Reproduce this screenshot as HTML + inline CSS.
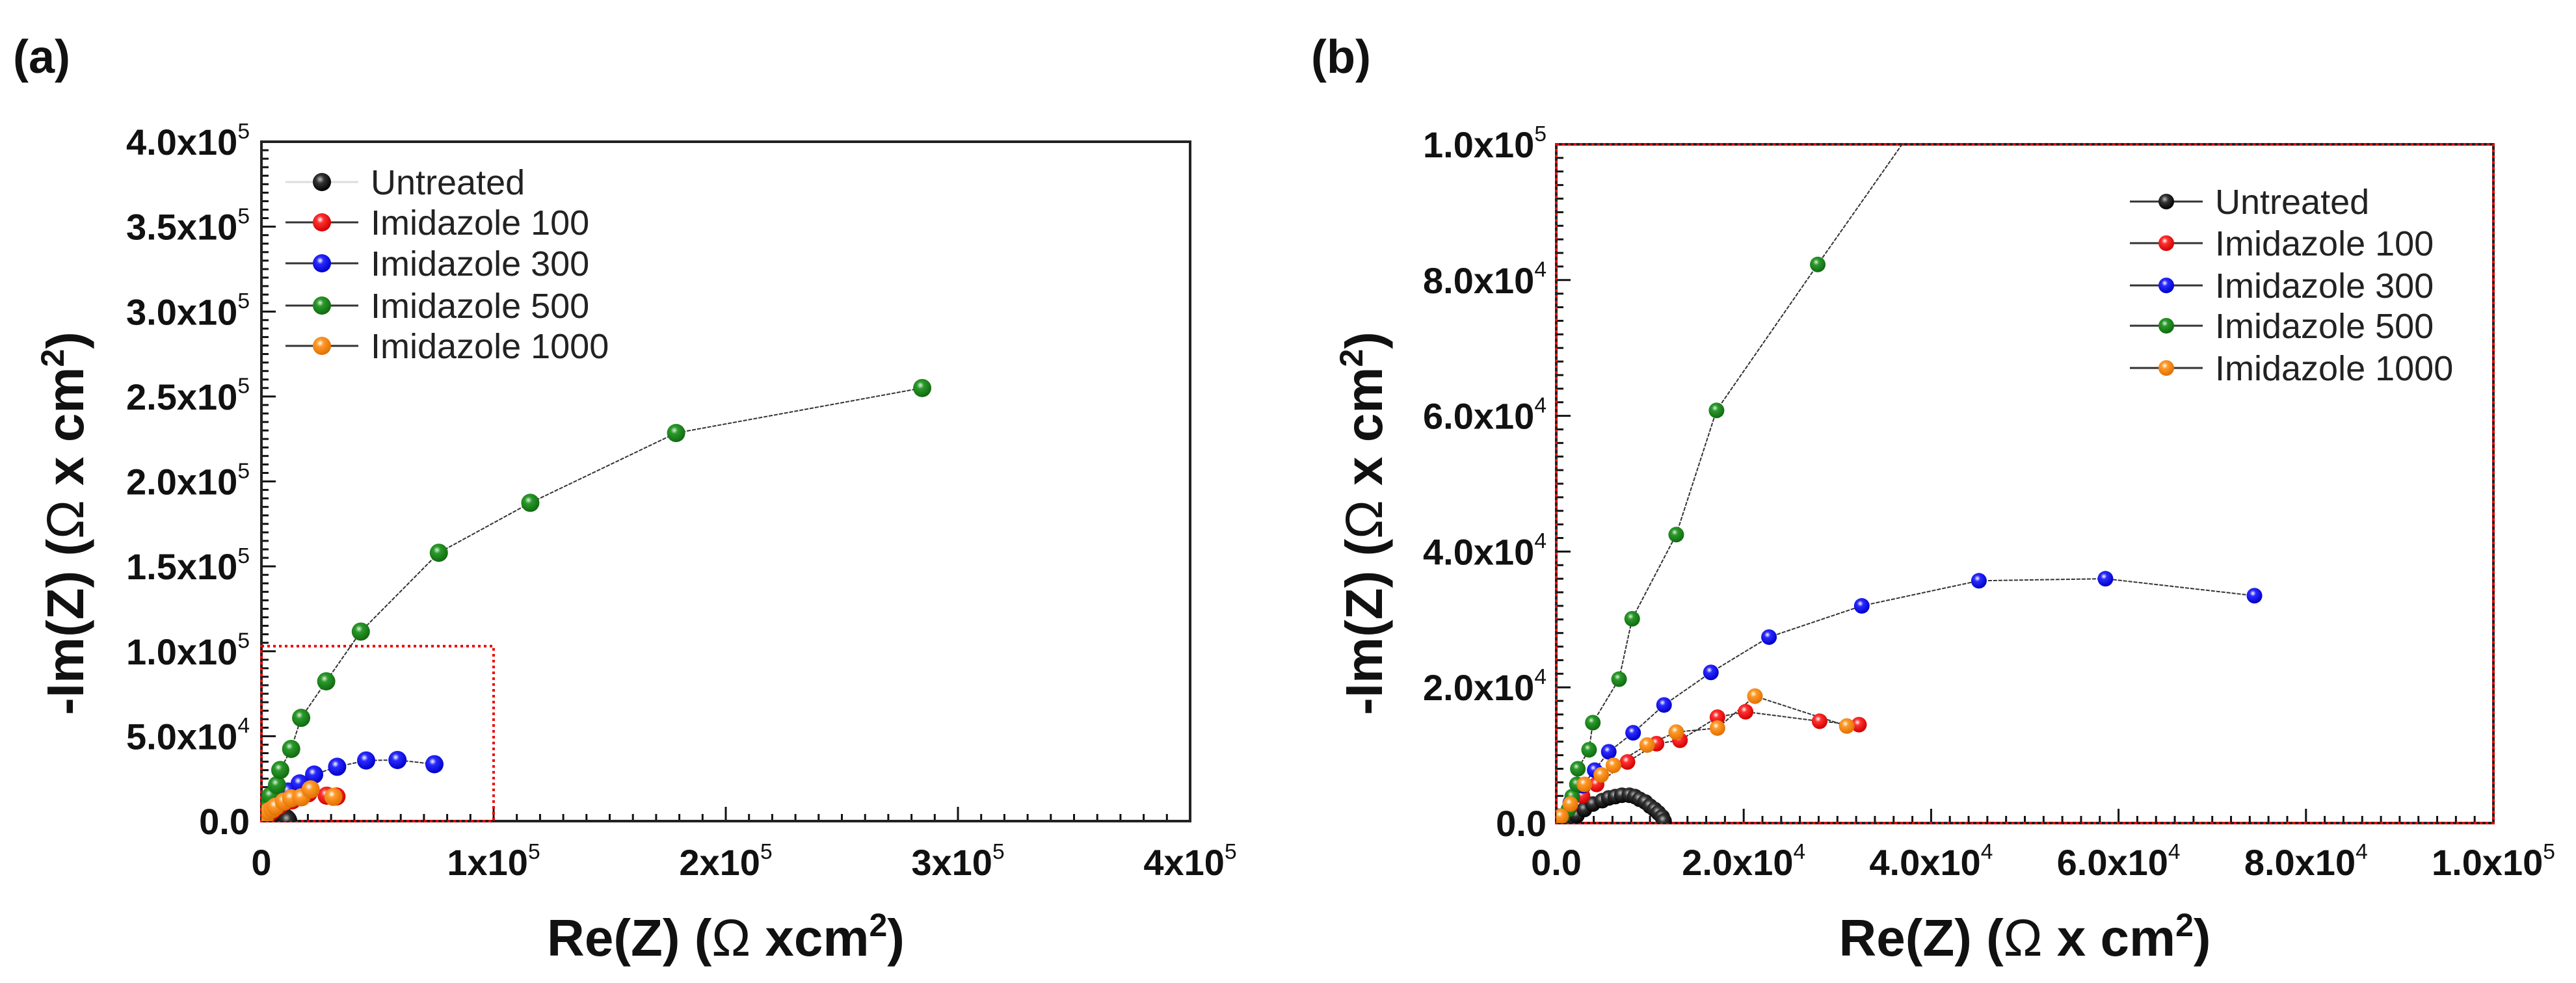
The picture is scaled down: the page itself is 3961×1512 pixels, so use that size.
<!DOCTYPE html>
<html><head><meta charset="utf-8">
<style>
html,body{margin:0;padding:0;background:#fff;}
svg{display:block;}
text{font-family:"Liberation Sans",Arial,sans-serif;}
</style></head>
<body>
<svg id="fig" width="3961" height="1512" viewBox="0 0 3961 1512" xmlns="http://www.w3.org/2000/svg">
<defs>
<radialGradient id="g-black" cx="0.4" cy="0.35" r="0.65"><stop offset="0" stop-color="#bbb"/><stop offset="0.35" stop-color="#333"/><stop offset="1" stop-color="#000"/></radialGradient>
<radialGradient id="g-red" cx="0.4" cy="0.35" r="0.65"><stop offset="0" stop-color="#fff"/><stop offset="0.3" stop-color="#ff3030"/><stop offset="1" stop-color="#d00000"/></radialGradient>
<radialGradient id="g-blue" cx="0.4" cy="0.35" r="0.65"><stop offset="0" stop-color="#fff"/><stop offset="0.3" stop-color="#2a2aff"/><stop offset="1" stop-color="#0000c8"/></radialGradient>
<radialGradient id="g-green" cx="0.4" cy="0.35" r="0.65"><stop offset="0" stop-color="#e0f0e0"/><stop offset="0.3" stop-color="#2a9a2a"/><stop offset="1" stop-color="#106a10"/></radialGradient>
<radialGradient id="g-orange" cx="0.4" cy="0.35" r="0.65"><stop offset="0" stop-color="#fff"/><stop offset="0.3" stop-color="#ff9a2a"/><stop offset="1" stop-color="#e07000"/></radialGradient>
</defs>
</svg>
<script>
// ---- data (x = Re(Z), y = -Im(Z), in ohm cm^2) ----
const seriesNames = ["Untreated","Imidazole 100","Imidazole 300","Imidazole 500","Imidazole 1000"];
const untreatedX = [300,1000,1600,2200,3000,3900,4900,5600,6300,7000,7800,8400,8900,9500,10000,10500,10900,11300,11500];
const untreatedY = [100,300,700,1100,2000,2800,3300,3700,3900,4100,4100,3900,3500,3100,2500,2000,1500,900,300];
const imid100X = [500,1500,2800,4300,7600,10700,13200,17200,20200,28100,32300];
const imid100Y = [800,2500,4000,5700,9000,11700,12200,15600,16400,15000,14500];
const imid300X = [500,1500,2800,4100,5600,8200,11500,16500,22700,32600,45100,58600,74500];
const imid300Y = [1000,3000,5500,7800,10500,13300,17400,22200,27400,32000,35700,36000,33500];
const imid500X = [300,600,1300,1700,2200,2300,3500,3900,6700,8100,12800,17100,27900,42800,76400,115800,178600,284600];
const imid500Y = [500,1000,2000,3900,5700,8000,10800,14800,21200,30100,42500,60800,82300,111600,158000,187400,228500,255000];
const imid1000X = [500,1500,3000,4800,6100,9700,12800,17200,21200,31000];
const imid1000Y = [1000,2800,5700,7100,8500,11500,13400,14000,18700,14300];
const panelAXTicks = ["0","1x10|5","2x10|5","3x10|5","4x10|5"];
const panelAYTicks = ["0.0","5.0x10|4","1.0x10|5","1.5x10|5","2.0x10|5","2.5x10|5","3.0x10|5","3.5x10|5","4.0x10|5"];
const panelBXTicks = ["0.0","2.0x10|4","4.0x10|4","6.0x10|4","8.0x10|4","1.0x10|5"];
const panelBYTicks = ["0.0","2.0x10|4","4.0x10|4","6.0x10|4","8.0x10|4","1.0x10|5"];

const allX=[untreatedX,imid100X,imid300X,imid500X,imid1000X];
const allY=[untreatedY,imid100Y,imid300Y,imid500Y,imid1000Y];
const fills=["url(#g-black)","url(#g-red)","url(#g-blue)","url(#g-green)","url(#g-orange)"];
const NS="http://www.w3.org/2000/svg";
const svg=document.getElementById('fig');
function el(tag,attrs,parent){const e=document.createElementNS(NS,tag);for(const k in attrs)e.setAttribute(k,attrs[k]);(parent||svg).appendChild(e);return e;}

function tickLabel(g,str,x,y,anchor,size){
  const parts=str.split('|');
  const t=el('text',{x:x,y:y,'text-anchor':anchor,'font-size':size,'font-weight':'bold',fill:'#111'},g);
  t.appendChild(document.createTextNode(parts[0]));
  if(parts[1]){const s=el('tspan',{dy:-size*0.45,'font-size':size*0.6,'font-weight':'normal'},t);s.textContent=parts[1];}
  
  
  return t;
}

function panel(cfg){
  const g=el('g',{});
  
  
  const {L,R,T,B,xmax,ymax}=cfg;
  const sx=v=>L+(v/xmax)*(R-L);
  const sy=v=>B-(v/ymax)*(B-T);
  const cid='clip-'+cfg.name;
  const cp=el('clipPath',{id:cid},g);el('rect',{x:L,y:T,width:R-L,height:B-T},cp);
  const nx=cfg.xTicks.length-1, ny=cfg.yTicks.length-1;
  for(let i=0;i<=nx*cfg.xMinor;i++){
    const v=xmax*i/(nx*cfg.xMinor);const x=sx(v);const major=i%cfg.xMinor===0;
    el('line',{x1:x,x2:x,y1:B,y2:B-(major?22:11),stroke:'#111','stroke-width':3},g);
  }
  for(let i=0;i<=ny*cfg.yMinor;i++){
    const v=ymax*i/(ny*cfg.yMinor);const y=sy(v);const major=i%cfg.yMinor===0;
    el('line',{x1:L,x2:L+(major?22:11),y1:y,y2:y,stroke:'#111','stroke-width':3},g);
  }
  cfg.xTicks.forEach((s,i)=>tickLabel(g,s,sx(xmax*i/nx),1346,'middle',56));
  cfg.yTicks.forEach((s,i)=>tickLabel(g,s,cfg.yLabelRight,sy(ymax*i/ny)+20,'end',56));
  const fr=el('rect',{x:L,y:T,width:R-L,height:B-T,fill:'none',stroke:'#222','stroke-width':4},g);
  
  
  if(cfg.redFrame){
    const rf=el('rect',{x:L,y:T,width:R-L,height:B-T,fill:'none',stroke:'#e00','stroke-width':4,'stroke-dasharray':'4 5'},g);
    
    
  }
  if(cfg.zoomBox){
    const zb=el('rect',{x:sx(0),y:sy(103000),width:sx(100000)-sx(0),height:sy(0)-sy(103000),fill:'none',stroke:'#e00','stroke-width':4,'stroke-dasharray':'4 5'},g);
    
    
  }
  const dg=el('g',{'clip-path':'url(#'+cid+')'},g);
  allX.forEach((xs,si)=>{
    const ys=allY[si];
    const pts=xs.map((x,i)=>sx(x)+','+sy(ys[i])).join(' ');
    const pl=el('polyline',{points:pts,fill:'none',stroke:'#333','stroke-width':2,'stroke-dasharray':si===0?'':'6 2'},dg);
    
    
  });
  allX.forEach((xs,si)=>{
    const ys=allY[si];
    xs.forEach((x,i)=>{
      const c=el('circle',{cx:sx(x),cy:sy(ys[i]),r:cfg.mr,fill:fills[si]},dg);
      
      
    });
  });
  const lg=el('g',{},g);
  
  
  seriesNames.forEach((n,i)=>{
    const y=cfg.legY[i];
    const e=el('g',{},lg);
    
    
    el('line',{x1:cfg.legX1,x2:cfg.legX2,y1:y,y2:y,stroke:(i===0&&cfg.name==='panel-a')?'#ddd':'#333','stroke-width':3},e);
    el('circle',{cx:(cfg.legX1+cfg.legX2)/2,cy:y,r:cfg.mr,fill:fills[i]},e);
    const t=el('text',{x:cfg.legText,y:y+19,'font-size':54,fill:'#222'},e);
    t.textContent=n;
  });
  const xt=el('text',{x:(L+R)/2,y:1470,'text-anchor':'middle','font-size':80,'font-weight':'bold',fill:'#111'},g);
  xt.innerHTML=cfg.xTitle;
  
  
  const yt=el('text',{x:0,y:0,'text-anchor':'middle','font-size':80,'font-weight':'bold',fill:'#111',transform:'translate('+cfg.yTitleX+',805) rotate(-90)'},g);
  yt.innerHTML='-Im(Z) (<tspan font-weight="normal">Ω</tspan>  x cm<tspan dy="-30" font-size="50">2</tspan><tspan dy="30">)</tspan>';
  
  
  const pl=el('text',{x:cfg.labX,y:112,'font-size':72,'font-weight':'bold',fill:'#111'},g);
  pl.textContent=cfg.label;
  
  
}

panel({name:'panel-a',L:402,R:1830,T:218,B:1263,xmax:400000,ymax:400000,xTicks:panelAXTicks,yTicks:panelAYTicks,
  xMinor:10,yMinor:10,yLabelRight:384,mr:14,zoomBox:true,redFrame:false,
  legY:[280,342,405,470,532],legX1:439,legX2:551,legText:570,
  xTitle:'Re(Z) (<tspan font-weight="normal">Ω</tspan> xcm<tspan dy="-30" font-size="50">2</tspan><tspan dy="30">)</tspan>',
  yTitleX:128,labX:20,label:'(a)'});
panel({name:'panel-b',L:2393,R:3834,T:222,B:1266,xmax:100000,ymax:100000,xTicks:panelBXTicks,yTicks:panelBYTicks,
  xMinor:10,yMinor:10,yLabelRight:2378,mr:12,zoomBox:false,redFrame:true,
  legY:[310,374,439,501,566],legX1:3275,legX2:3387,legText:3406,
  xTitle:'Re(Z) (<tspan font-weight="normal">Ω</tspan> x cm<tspan dy="-30" font-size="50">2</tspan><tspan dy="30">)</tspan>',
  yTitleX:2125,labX:2016,label:'(b)'});
</script>
</body></html>
